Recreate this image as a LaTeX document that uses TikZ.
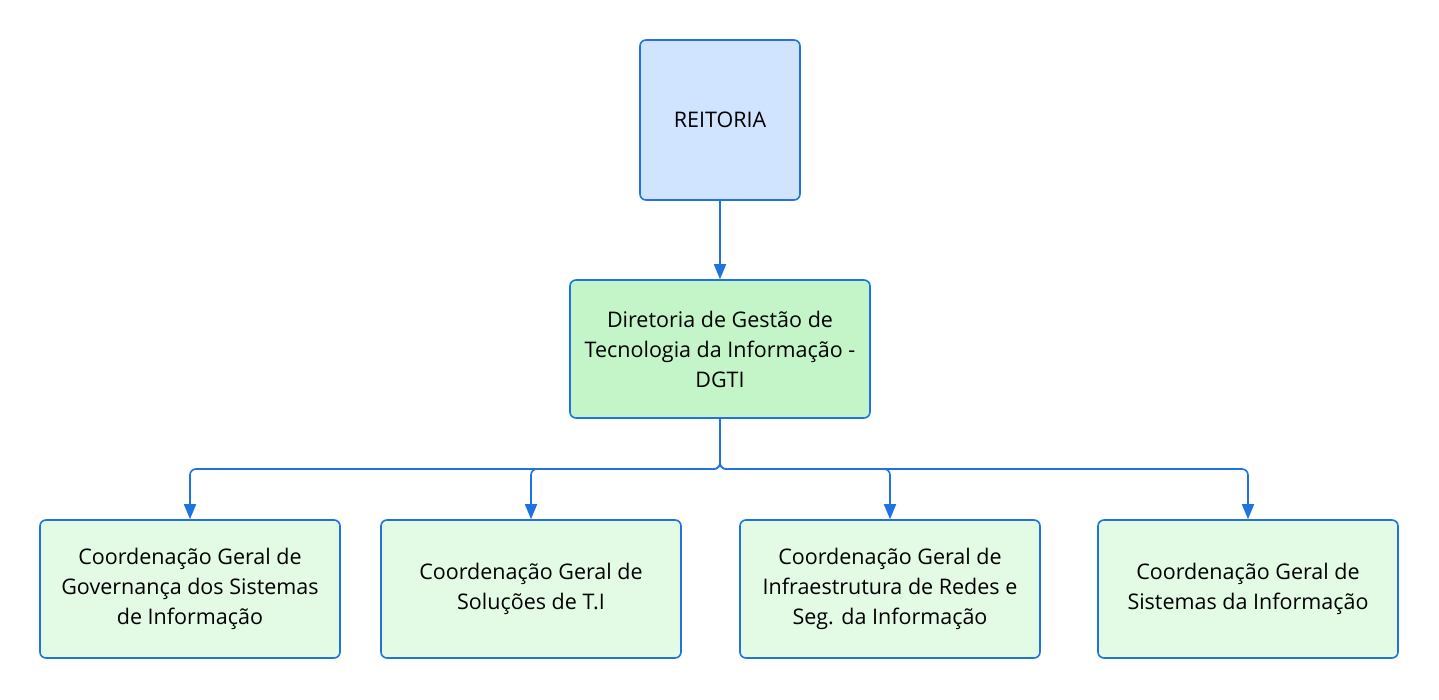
\documentclass[tikz,border=0pt]{standalone}
\usepackage{fontspec}
\setmainfont{Open Sans}
\usetikzlibrary{arrows.meta}

\definecolor{edgeblue}{RGB}{30,115,225}
\definecolor{reitfill}{RGB}{208,228,255}
\definecolor{dirfill}{RGB}{195,245,200}
\definecolor{coordfill}{RGB}{227,250,228}

\begin{document}
\begin{tikzpicture}[x=1pt,y=-1pt]
\tikzset{unit/.style={draw=edgeblue,line width=1.6pt,rounded corners=6pt,align=center,
    font=\fontsize{21.5}{30}\selectfont, inner sep=0pt},
  reit/.style={unit,fill=reitfill,minimum width=160pt,minimum height=160pt},
  dir/.style={unit,fill=dirfill,minimum width=300pt,minimum height=138pt},
  coord/.style={unit,fill=coordfill,minimum width=300pt,minimum height=138pt},
  link/.style={draw=edgeblue,line width=1.6pt,rounded corners=6pt,
    -{Triangle[width=12pt,length=15pt]}}}
  \useasboundingbox (0,0) rectangle (1439,699);

  \node[reit] at (720,120) (R) {REITORIA};
  \node[dir] at (720,349) (D) {Diretoria de Gestão de\\Tecnologia da Informação -\\DGTI};

  \node[coord] at (190,589) (C1) {Coordenação Geral de\\Governança dos Sistemas\\de Informação};
  \node[coord] at (531,589) (C2) {Coordenação Geral de\\Soluções de T.I};
  \node[coord] at (890,589) (C3) {Coordenação Geral de\\Infraestrutura de Redes e\\Seg. da Informação};
  \node[coord] at (1248,589) (C4) {Coordenação Geral de\\Sistemas da Informação};

  \coordinate (bus) at (720,469);

  \draw[link] (R) -- (D);
  \foreach \c in {C1,C2,C3,C4}
    \draw[link] (D) -- (bus) -| (\c);
\end{tikzpicture}
\end{document}
